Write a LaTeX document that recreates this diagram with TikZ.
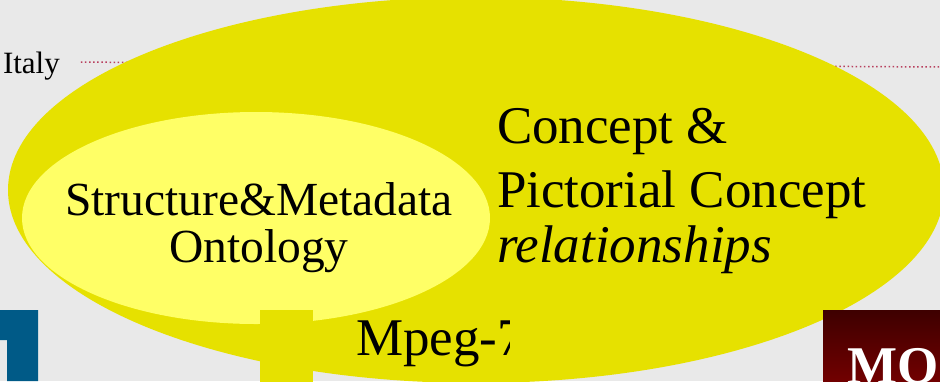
\documentclass[tikz,border=0pt]{standalone}
\usepackage{fontspec}
\setmainfont{Liberation Serif}
\usetikzlibrary{shapes.geometric}
\definecolor{slidegray}{HTML}{E9E9E9}
\definecolor{darkyellow}{HTML}{E6E100}
\definecolor{lightyellow}{HTML}{FFFF66}
\definecolor{logoblue}{HTML}{005A87}
\definecolor{dotred}{HTML}{B8405E}
\definecolor{boxtop}{HTML}{3E0000}
\definecolor{boxbot}{HTML}{720000}
\begin{document}
\begin{tikzpicture}
[x=1pt,y=-1pt,%
  every node/.style={inner sep=0pt,outer sep=0pt},%
  blob/.style={shape=ellipse,draw=none},%
  dotline/.style={dotred,line width=1.5pt,dash pattern=on 1.5pt off 2.6pt},%
  bigtext/.style={font=\fontsize{53}{64}\selectfont}]
\useasboundingbox (0,0) rectangle (940,381);
\clip (0,0) rectangle (940,381);
\fill[slidegray] (0,0) rectangle (940,381);
\node (italy) [anchor=base west,font=\fontsize{31}{36}\selectfont] at (3,73) {Italy};
\coordinate (dotend) at (940,67);
\draw[dotline] ([xshift=21pt,yshift=3.5pt]italy.east) -- (dotend);
\node (outer) [blob,fill=darkyellow,minimum width=936pt,minimum height=386pt] at (476,190) {};
\node (inner) [blob,fill=lightyellow,minimum width=468pt,minimum height=212pt] at (256,218) {};
\node (stem) [fill=darkyellow,minimum width=53pt,minimum height=72pt,anchor=north west] at (260,310) {};
\node (struct) [align=center,font=\fontsize{47.5}{47}\selectfont] at (259,228) {Structure\&Metadata\\Ontology};
\node (concept) [align=left,bigtext,anchor=west] at (497,191) {Concept \&\\Pictorial Concept\\[-9pt]\textit{relationships}};
\begin{scope}
  \clip (0,0) rectangle (509,381);
  \node (mpeg) [anchor=base west,bigtext] at (356,355) {Mpeg-7};
\end{scope}
\fill[logoblue] (0,310) -- (38,310) -- (38,381) -- (7,381) -- (7,340) -- (0,340) -- cycle;
\node (modbox) [anchor=north west,minimum width=117pt,minimum height=72pt,top color=boxtop,bottom color=boxbot] at (823,310) {};
\node (mo) [anchor=base west,text=white,font=\fontsize{53}{64}\selectfont\bfseries] at (847,383) {MO};
\end{tikzpicture}
\end{document}
